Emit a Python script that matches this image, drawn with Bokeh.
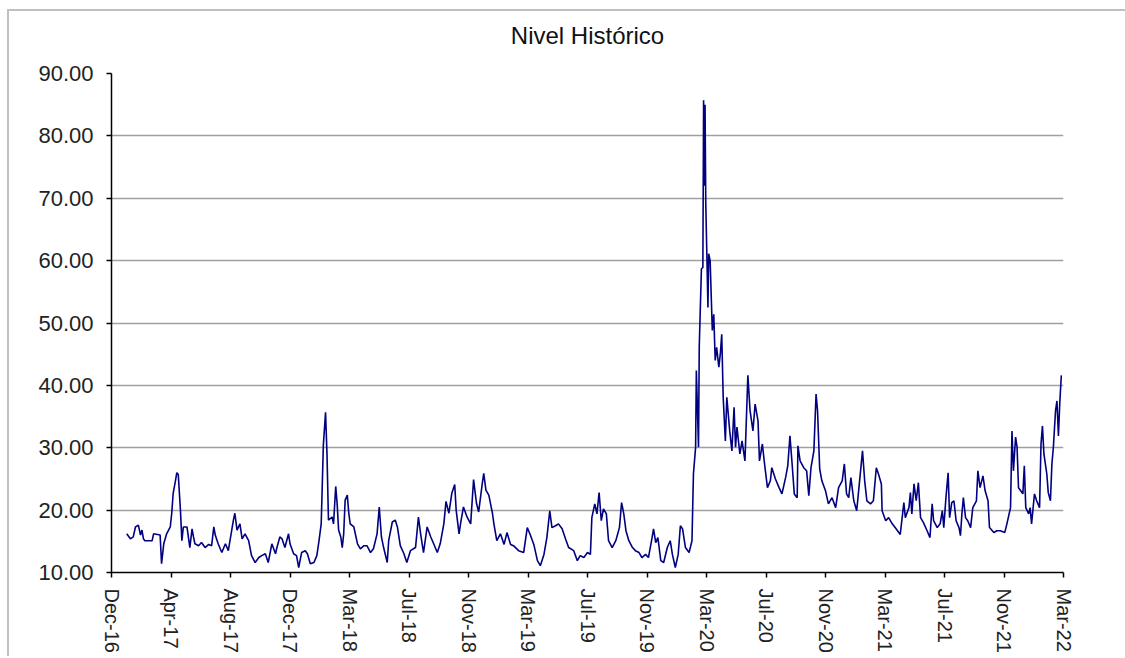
from bokeh.plotting import figure
from bokeh.models import FixedTicker, Range1d, NumeralTickFormatter
from bokeh.embed import file_html
from bokeh.resources import INLINE

# x-axis: category-style axis, one label every 82 trading days
tick_labels = ["Dec-16", "Apr-17", "Aug-17", "Dec-17", "Mar-18", "Jul-18", "Nov-18",
               "Mar-19", "Jul-19", "Nov-19", "Mar-20", "Jul-20", "Nov-20", "Mar-21",
               "Jul-21", "Nov-21", "Mar-22"]
days_per_label = 82
y_ticks = [10, 20, 30, 40, 50, 60, 70, 80, 90]
chart_title = "Nivel Histórico"

# series (trading-day index, level)
days_2017 = [21, 26, 30, 33, 37, 40, 42, 44, 46, 56, 58, 67, 69, 72, 76, 81, 83, 85, 88, 90,
             92, 95, 97, 99, 104, 108, 111, 113, 115, 120, 124, 129, 134, 138, 141, 143, 147, 152, 157, 161,
             168, 170, 173, 177, 180, 184, 189, 193, 198, 203, 207, 212, 216, 221, 226, 228, 232, 235, 239, 244,
             246, 251, 255, 258, 262, 267]
vals_2017 = [16.2, 15.4, 15.7, 17.3, 17.6, 16.0, 16.8, 15.4, 15.1, 15.1, 16.2, 16.0, 11.4, 14.6, 16.2, 17.3, 19.5, 22.7, 24.6, 26.0,
             25.7, 20.0, 15.1, 17.3, 17.3, 14.0, 17.0, 15.7, 14.6, 14.3, 14.8, 14.0, 14.5, 14.3, 17.3, 16.0, 14.6, 13.2, 14.6, 13.5,
             18.4, 19.5, 16.8, 17.8, 15.4, 16.2, 15.1, 12.7, 11.6, 12.4, 12.7, 13.0, 11.6, 14.6, 13.0, 14.0, 15.7, 15.4, 14.0, 16.2,
             14.6, 13.0, 12.7, 10.8, 13.2, 13.5]

days_2018 = [270, 274, 279, 283, 286, 289, 292, 295, 297, 299, 304, 306, 309, 311, 313, 316, 318, 320, 322, 325,
             327, 329, 334, 339, 343, 348, 352, 357, 361, 366, 369, 372, 375, 380, 382, 387, 391, 394, 398, 403,
             407, 412, 419, 423, 426, 430, 435, 440, 444, 449, 453, 458, 461, 465, 469, 473, 475, 479, 481, 485,
             490, 495, 499, 503, 506, 511, 513, 516, 520, 525, 527, 531]
vals_2018 = [13.0, 11.4, 11.6, 12.7, 15.1, 17.8, 30.5, 35.7, 28.9, 18.4, 18.9, 17.8, 23.8, 21.0, 16.8, 15.7, 14.0, 16.2, 21.6, 22.4,
             19.5, 17.8, 17.3, 14.6, 13.8, 14.3, 14.3, 13.2, 13.8, 16.2, 20.5, 15.7, 14.0, 11.6, 15.1, 18.1, 18.4, 17.3, 14.3, 13.0,
             11.6, 13.5, 14.0, 18.9, 16.2, 13.2, 17.3, 15.7, 14.6, 13.2, 14.6, 17.8, 21.4, 19.5, 22.7, 24.1, 20.0, 16.2, 17.8, 20.5,
             18.9, 17.8, 24.9, 21.1, 19.7, 24.3, 25.9, 23.2, 22.4, 19.5, 17.8, 15.1]

days_2019 = [536, 541, 545, 550, 554, 561, 568, 573, 577, 582, 587, 591, 596, 600, 604, 607, 612, 616, 621, 626,
             630, 637, 642, 646, 651, 656, 660, 662, 666, 669, 672, 675, 678, 682, 685, 690, 695, 700, 703, 706,
             709, 713, 718, 722, 727, 731, 736, 740, 745, 747, 750, 753, 757, 761, 766, 770, 773, 777, 781, 784,
             787, 791, 796, 800, 802, 805, 806, 809, 810, 813, 815, 816, 817, 818, 819, 822, 823]
vals_2019 = [16.2, 14.5, 16.4, 14.5, 14.3, 13.5, 13.2, 17.2, 16.1, 14.5, 11.9, 11.1, 12.9, 15.6, 19.9, 17.2, 17.5, 17.8, 17.0, 15.3,
             14.0, 13.5, 11.9, 12.7, 12.4, 13.2, 12.9, 18.8, 21.0, 19.4, 22.8, 18.3, 20.2, 19.4, 15.1, 14.0, 15.1, 17.2, 21.2, 19.4,
             16.7, 15.1, 14.0, 13.5, 13.2, 12.4, 12.9, 12.4, 15.6, 17.0, 14.8, 15.6, 11.9, 11.6, 14.0, 15.1, 12.9, 10.8, 12.9, 17.5,
             17.0, 14.0, 13.2, 15.1, 25.8, 30.1, 42.4, 30.1, 46.1, 58.7, 58.9, 85.7, 72.0, 85.0, 69.1, 52.5, 61.1]

days_2020 = [825, 828, 830, 832, 834, 837, 839, 841, 843, 846, 848, 852, 855, 858, 860, 862, 866, 869, 873, 877,
             880, 884, 887, 891, 893, 897, 900, 904, 908, 910, 915, 920, 924, 929, 932, 935, 938, 941, 945, 946,
             949, 954, 958, 961, 964, 968, 971, 973, 976, 979, 984, 988, 993, 998, 1002, 1007, 1010, 1013, 1016, 1019,
             1023, 1027, 1031, 1035, 1038, 1041, 1046, 1050, 1054, 1057, 1061]
vals_2020 = [60.0, 48.8, 51.4, 44.0, 46.1, 42.9, 45.0, 48.2, 38.1, 31.1, 38.1, 32.7, 29.5, 36.5, 30.1, 33.3, 29.0, 31.1, 27.9, 41.6,
             36.0, 32.7, 37.0, 34.3, 27.9, 30.6, 27.4, 23.6, 24.7, 26.8, 25.0, 23.6, 22.6, 25.2, 27.1, 31.9, 27.4, 22.6, 22.0, 30.3,
             27.9, 26.8, 26.3, 22.3, 26.8, 29.5, 38.6, 36.0, 26.6, 24.7, 23.1, 21.0, 22.0, 20.4, 23.6, 24.7, 27.4, 22.6, 22.0, 25.2,
             21.5, 19.9, 24.7, 29.5, 24.7, 21.5, 21.0, 21.5, 26.8, 25.8, 24.2]

days_2021 = [1062, 1067, 1071, 1076, 1080, 1087, 1092, 1094, 1099, 1101, 1103, 1106, 1109, 1112, 1115, 1119, 1124, 1128, 1131, 1133,
             1138, 1142, 1145, 1147, 1150, 1153, 1155, 1158, 1161, 1164, 1168, 1170, 1172, 1174, 1177, 1180, 1184, 1187, 1192, 1194,
             1197, 1201, 1204, 1208, 1210, 1216, 1220, 1225, 1231, 1234, 1239, 1241, 1243, 1246, 1248, 1250, 1253, 1256, 1258, 1260,
             1264, 1266, 1268, 1272, 1275, 1279, 1281, 1283, 1285, 1289, 1291, 1294, 1296, 1298, 1301, 1303, 1305, 1307, 1309]
vals_2021 = [19.9, 18.3, 18.8, 17.8, 17.2, 16.1, 21.2, 18.8, 20.4, 22.8, 19.4, 24.2, 21.5, 24.4, 18.8, 18.0, 16.7, 15.6, 21.0, 18.3,
             17.2, 17.8, 19.9, 17.2, 22.0, 26.0, 18.8, 21.2, 21.5, 18.3, 17.2, 15.9, 19.4, 22.0, 18.8, 18.3, 17.2, 20.4, 21.5, 26.3,
             23.6, 25.5, 23.1, 21.5, 17.2, 16.4, 16.7, 16.7, 16.4, 17.8, 20.4, 32.7, 26.3, 31.7, 30.1, 23.6, 23.1, 22.6, 27.1, 20.4,
             19.4, 20.4, 17.8, 22.6, 21.5, 20.4, 30.6, 33.5, 29.0, 25.8, 22.8, 21.5, 27.4, 30.0, 35.9, 37.5, 31.9, 37.5, 41.6]

days = days_2017 + days_2018 + days_2019 + days_2020 + days_2021
vals = vals_2017 + vals_2018 + vals_2019 + vals_2020 + vals_2021
assert len(days) == len(vals)

tick_pos = [i * days_per_label for i in range(len(tick_labels))]

FONT = "Liberation Sans"
FRAME_GREY = "#c0c0c0"

p = figure(width=1125, height=660, output_backend="svg", toolbar_location=None,
           x_range=Range1d(0, tick_pos[-1]), y_range=Range1d(y_ticks[0], y_ticks[-1]),
           min_border_left=111, min_border_top=77, min_border_right=62, min_border_bottom=84,
           title=chart_title)
# light grey chart-object frame (top and left edges) painted behind a transparent border area
p.styles = {"margin-top": "-4px",
            "background":
            f"linear-gradient({FRAME_GREY},{FRAME_GREY}) 7px 13px / 2px 100% no-repeat, "
            f"linear-gradient({FRAME_GREY},{FRAME_GREY}) 7px 13px / 100% 2px no-repeat, white"}
p.outline_line_color = None
p.background_fill_color = "white"
p.border_fill_color = None

p.title.align = "center"
p.title.vertical_align = "top"
p.title.standoff = 46
p.title.text_font = FONT
p.title.text_font_size = "24px"
p.title.text_font_style = "normal"
p.title.text_color = "#111111"

p.line(days, vals, line_color="#000080", line_width=1.6)

p.xgrid.visible = False
p.ygrid.ticker = FixedTicker(ticks=y_ticks)
p.ygrid.grid_line_color = "#a0a0a0"
p.ygrid.grid_line_width = 1.5

p.yaxis.ticker = FixedTicker(ticks=y_ticks)
p.yaxis.formatter = NumeralTickFormatter(format="0.00")
p.xaxis.ticker = FixedTicker(ticks=tick_pos)
p.xaxis.major_label_overrides = {t: l for t, l in zip(tick_pos, tick_labels)}
p.xaxis.major_label_orientation = "vertical"

for ax in (p.xaxis, p.yaxis):
    ax.axis_line_color = "black"
    ax.axis_line_width = 1.5
    ax.major_tick_line_color = "black"
    ax.major_tick_line_width = 1.5
    ax.major_tick_in = 0
    ax.major_tick_out = 5
    ax.minor_tick_line_color = None
    ax.major_label_text_font = FONT
    ax.major_label_text_color = "#222222"
p.yaxis.major_label_text_font_size = "22px"
p.yaxis.major_label_standoff = 13
p.xaxis.major_label_text_font_size = "20px"
p.xaxis.major_label_standoff = 11

open("out.html", "w").write(file_html(p, INLINE))
